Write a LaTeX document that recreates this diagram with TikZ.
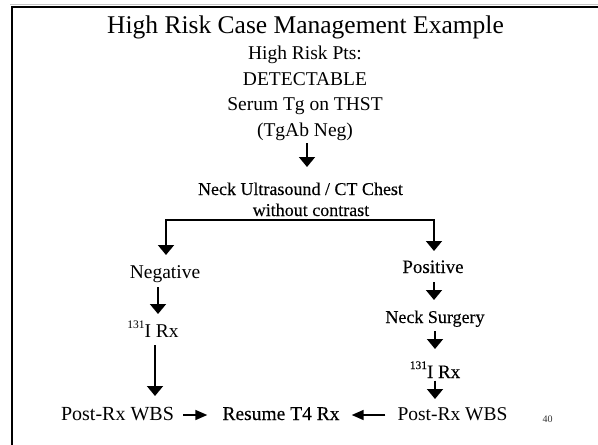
\documentclass[tikz,border=0pt]{standalone}
\usepackage{fontspec}
\setmainfont{Liberation Serif}
\newfontfamily\dk[FakeBold=0.15]{Liberation Serif}
\usetikzlibrary{arrows.meta,calc}
\newcommand{\isup}{\raisebox{9pt}{\fontsize{11.5}{11.5}\selectfont 131}}
\tikzset{
  txt/.style={inner sep=0pt, anchor=base, font=\fontsize{19.5}{20}\selectfont},
  dtxt/.style={inner sep=0pt, anchor=base, font=\fontsize{#1}{20}\selectfont\dk},
  shaft/.style={line width=1.8pt, line cap=rect},
  varr/.style={line width=1.8pt, -{Triangle[width=16pt,length=10pt]}},
  harr/.style={line width=1.7pt, -{Triangle[width=10pt,length=12pt]}},
}
\begin{document}
\begin{tikzpicture}[x=1pt,y=-1pt]
\useasboundingbox (0,0) rectangle (598,445);
% slide frame
\draw[gray!45, line width=1pt] (10,4.3) -- (598,4.3);
\draw[line width=2.3pt] (12,445) -- (12,7) -- (598,7);

% header text
\node[txt, font=\fontsize{25.5}{26}\selectfont] (title) at (305.5,33) {High Risk Case Management Example};
\node[txt] (hrp)   at (305,59)  {High Risk Pts:};
\node[txt] (det)   at (305,85)  {DETECTABLE};
\node[txt] (serum) at (305,110) {Serum Tg on THST};
\node[txt] (tgab)  at (305,136) {(TgAb Neg)};

\node[dtxt=18] (neck1) at (300.5,195) {Neck Ultrasound / CT Chest};
\node[dtxt=18] (neck2) at (311,216)   {without contrast};

% branches
\node[txt] (neg) at (165,278) {Negative};
\node[dtxt=19] (pos) at (433,273) {Positive};
\node[dtxt=18] (surg) at (435,323) {Neck Surgery};
\node[txt] (iL) at (153,337) {\isup I Rx};
\node[dtxt=19] (iR) at (435,378) {\isup I Rx};

% bottom row
\node[txt, font=\fontsize{20}{20}\selectfont] (wbsL) at (117.5,420) {Post-Rx WBS};
\node[dtxt=19.5] (resume) at (281,420) {Resume T4 Rx};
\node[txt] (wbsR) at (452.5,420) {Post-Rx WBS};
\node[inner sep=0pt, anchor=base, font=\fontsize{10}{10}\selectfont, text=black!80] (pnum) at (547.5,422) {40};

% x positions of the vertical connectors
\coordinate (xA) at (307,0);
\coordinate (xL) at (166,0);
\coordinate (xR) at (434,0);
\coordinate (xL2) at (158,0);
\coordinate (xL3) at (155,0);
\coordinate (xR2) at (435,0);
\coordinate (split) at ($(neck2.base)+(0,4)$);

% connectors
\draw[varr] ($(tgab.base -| xA)+(0,7)$) -- ($(neck1.base -| xA)+(0,-28)$);
\draw[shaft] (split -| xL) -- (split -| xR);
\draw[varr] (split -| xL) -- ($(neg.base -| xL)+(0,-23)$);
\draw[varr] (split -| xR) -- ($(pos.base -| xR)+(0,-22)$);
\draw[varr] ($(neg.base -| xL2)+(0,9)$) -- ($(iL.base -| xL2)+(0,-23)$);
\draw[varr] ($(iL.base -| xL3)+(0,8)$) -- ($(wbsL.base -| xL3)+(0,-24)$);
\draw[varr] ($(pos.base -| xR)+(0,9)$) -- ($(surg.base -| xR)+(0,-23)$);
\draw[varr] ($(surg.base -| xR2)+(0,8)$) -- ($(iR.base -| xR2)+(0,-29)$);
\draw[varr] ($(iR.base -| xR2)+(0,2.5)$) -- ($(wbsR.base -| xR2)+(0,-21)$);
\draw[harr] ($(wbsL.base east)+(9,-5)$) -- ($(resume.base west)+(-15,-5)$);
\draw[harr] ($(wbsR.base west)+(-12,-5)$) -- ($(resume.base east)+(12,-5)$);
\end{tikzpicture}
\end{document}
